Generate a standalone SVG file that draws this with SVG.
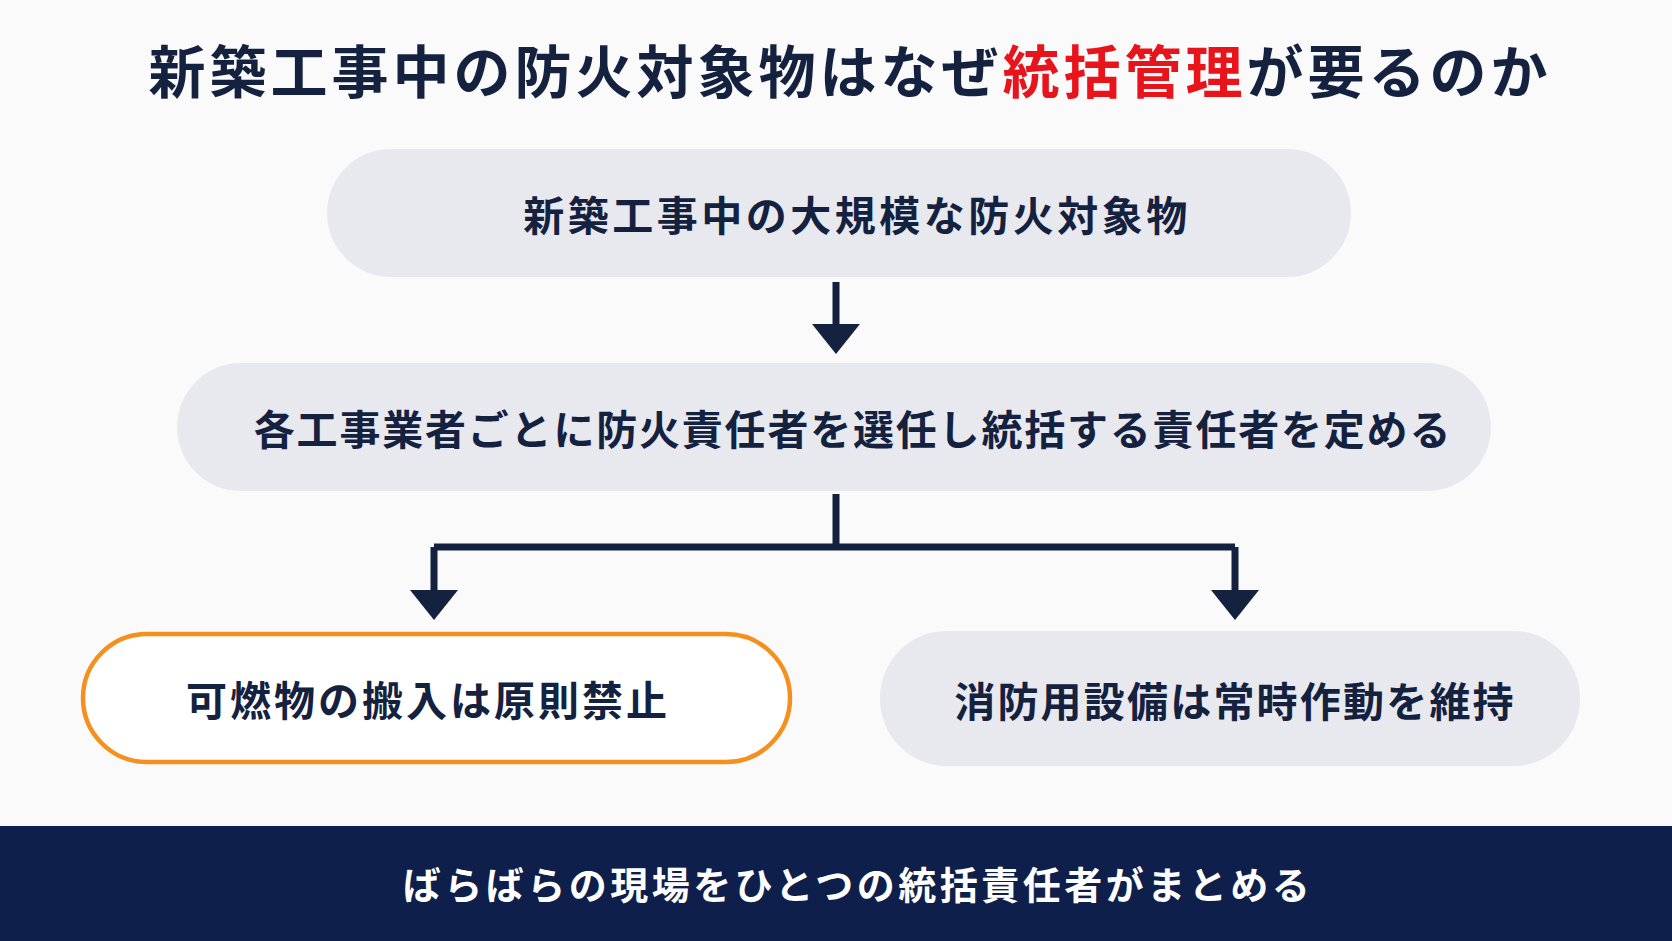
<svg xmlns="http://www.w3.org/2000/svg" width="1672" height="941" viewBox="0 0 1672 941">
<style>
text{font-family:"Noto Sans CJK JP","Noto Sans",sans-serif;font-weight:700;text-anchor:middle;dominant-baseline:central}
.box{fill:#e8e9ee}
.lbl{font-size:41px;fill:#14213f}
.ln{stroke:#14213f;stroke-width:7;fill:none}
.ah{fill:#14213f}
</style>
<rect width="1672" height="941" fill="#fafafb"/>
<text x="850" y="68" font-size="57" fill="#14213f" letter-spacing="4">新築工事中の防火対象物はなぜ<tspan fill="#e8141b">統括管理</tspan>が要るのか</text>
<g id="n1"><rect class="box" x="327" y="149" width="1024" height="128" rx="64"/><text class="lbl" x="857" y="213" font-size="45" letter-spacing="3.5">新築工事中の大規模な防火対象物</text></g>
<g id="n2"><rect class="box" x="177" y="363" width="1314" height="128" rx="64"/><text class="lbl" x="853" y="427" letter-spacing="1.8">各工事業者ごとに防火責任者を選任し統括する責任者を定める</text></g>
<g id="n3"><rect x="83" y="634" width="707" height="128" rx="64" fill="#fff" stroke="#f5901e" stroke-width="4.5"/><text class="lbl" x="428" y="698" letter-spacing="3">可燃物の搬入は原則禁止</text></g>
<g id="n4"><rect class="box" x="880" y="631" width="700" height="135" rx="67"/><text class="lbl" x="1235" y="699" letter-spacing="2.2">消防用設備は常時作動を維持</text></g>
<g id="connectors">
<path class="ln" d="M836 282V326"/><polygon class="ah" points="812,324 860,324 836,354"/>
<path class="ln" d="M836 494V547M434 547H1235M434 547V592M1235 547V592"/>
<polygon class="ah" points="410,590 458,590 434,620"/>
<polygon class="ah" points="1211,590 1259,590 1235,620"/>
</g>
<g id="footer"><rect x="0" y="826" width="1672" height="115" fill="#0f1f4b"/><text x="858" y="882" font-size="38" fill="#fff" letter-spacing="3.5">ばらばらの現場をひとつの統括責任者がまとめる</text></g>
</svg>
